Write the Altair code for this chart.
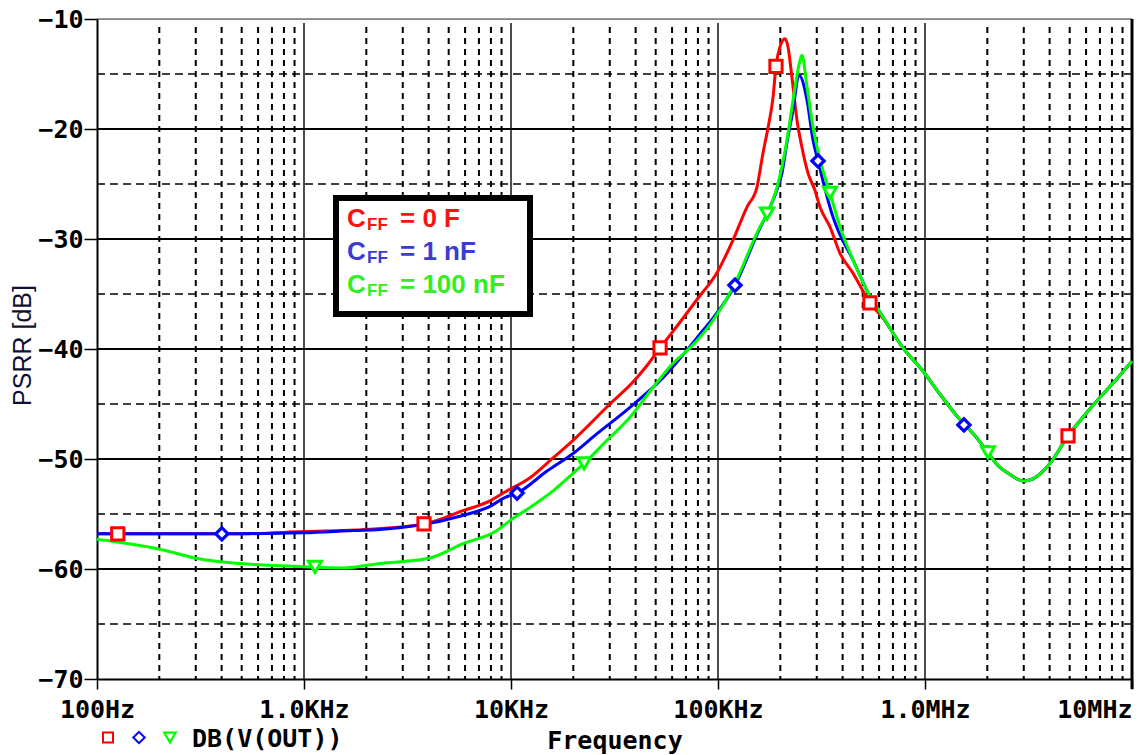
import altair as alt
import pandas as pd

# ---------------- data ----------------
RED_FREQ = [100, 200, 500, 1000, 2000, 3800, 5860, 7920, 9350, 12360, 15960, 19950,
            30080, 38830, 45400, 52480, 60600, 79200, 100000, 118100, 138000, 154200,
            164900, 174800, 184500, 190600, 199500, 210800, 217700, 227600, 240800,
            254600, 272100, 294300, 311000, 347500, 388400, 448700, 542000, 626600]
RED_DB = [-56.8, -56.8, -56.8, -56.6, -56.4, -55.9, -54.7, -53.8, -53.0, -51.7, -49.9, -48.3,
          -45.0, -43.0, -41.5, -39.9, -38.4, -35.5, -32.9, -30.1, -27.1, -25.3,
          -22.2, -19.8, -17.1, -14.3, -12.5, -11.8, -12.5, -15.3, -19.2,
          -21.7, -24.0, -25.6, -27.1, -28.9, -31.3, -33.1, -35.8, -37.2]

BLUE_FREQ = [100, 401, 1000, 1725, 2330, 3630, 5670, 7920, 9350, 10700, 14930, 19950,
             26030, 37570, 54250, 70800, 84700, 94600, 120800, 159500, 172600, 192800,
             203800, 215400, 230300, 246000, 269200, 287700, 304300, 359400, 380000,
             448700, 524800, 626600]
BLUE_DB = [-56.8, -56.8, -56.7, -56.5, -56.4, -56.0, -55.2, -54.3, -53.5, -53.1, -51.1, -49.5,
           -47.7, -45.3, -42.6, -40.1, -38.3, -37.2, -34.2, -29.0, -27.7, -25.5,
           -24.0, -21.2, -18.3, -15.1, -17.4, -21.0, -22.9, -28.0, -29.2,
           -31.9, -34.7, -37.1]

GREEN_FREQ = [100, 201, 315, 491, 1000, 1578, 2330, 4060, 5860, 8560, 9890, 12360, 15960,
              19950, 22540, 29100, 37570, 48530, 60630, 73200, 91400, 118100, 159500,
              172600, 192800, 215400, 230300, 248900, 254600, 269200, 287700, 311000,
              347500, 388400, 448700, 524800, 626600]
GREEN_DB = [-57.3, -58.2, -59.1, -59.5, -59.8, -59.9, -59.5, -59.0, -57.7, -56.5, -55.6, -54.4, -52.9,
            -51.3, -50.4, -48.3, -46.2, -43.5, -41.3, -39.9, -37.8, -34.4, -28.9,
            -27.7, -25.3, -21.0, -17.4, -13.8, -13.3, -16.2, -19.8, -22.8,
            -25.8, -28.9, -31.9, -34.7, -37.1]

# high-frequency part where all three traces coincide
TAIL_FREQ = [783000, 977000, 1180000, 1428000, 1782000, 2014000, 2228000, 2575000,
             2973000, 3324000, 4018000, 4909000, 5797000, 7244000, 8465000, 10000000]
TAIL_DB = [-39.9, -42.0, -44.1, -46.1, -48.1, -49.4, -50.5, -51.4,
           -52.0, -51.8, -50.4, -47.9, -46.2, -44.1, -42.7, -41.1]

RED_MK_FREQ = [126, 3800, 52480, 190600, 542000, 4909000]
RED_MK_DB = [-56.8, -55.9, -39.9, -14.3, -35.8, -47.9]
BLUE_MK_FREQ = [401, 10700, 120800, 304300, 1542000]
BLUE_MK_DB = [-56.8, -53.1, -34.2, -22.9, -46.9]
GREEN_MK_FREQ = [1130, 22540, 172600, 347500, 2014000]
GREEN_MK_DB = [-59.8, -50.4, -27.7, -25.8, -49.4]

X_TICKS = [100, 1000, 10000, 100000, 1000000, 10000000]
X_LABELS = ["100Hz", "1.0KHz", "10KHz", "100KHz", "1.0MHz", "10MHz"]
Y_TICKS = [-70, -60, -50, -40, -30, -20, -10]
Y_MINOR = [-65, -55, -45, -35, -25, -15]
Y_MAJOR_GRID = [-60, -50, -40, -30, -20]
X_MAJOR_GRID = [1000, 10000, 100000, 1000000]
X_MINOR_GRID = [m * 10 ** e for e in range(2, 7) for m in range(2, 10)]

SERIES = ["C", "C", "C"]
SUBS = ["FF", "FF", "FF"]
VALUES = ["= 0 F", "= 1 nF", "= 100 nF"]
TEXT_COLORS = ["#ff1010", "#3c3cd0", "#33ee22"]

RED, BLUE, GREEN = "#ff0000", "#0000ff", "#00ff00"
MONO = "DejaVu Sans Mono"
SANS = "Liberation Sans"

W, H = 1035, 660

xscale = alt.Scale(type="log", domain=[100, 10000000], nice=False)
yscale = alt.Scale(domain=[-70, -10], nice=False)

label_expr = "[" + ",".join("'%s'" % s for s in X_LABELS) + "][round(log(datum.value)/LN10)-2]"

x_axis = alt.Axis(
    values=X_TICKS, labelExpr=label_expr, grid=False,
    domainColor="black", domainWidth=2, tickColor="black", tickWidth=1.5, tickSize=10,
    labelFont=MONO, labelFontSize=25, labelFontWeight="bold", labelColor="black",
    labelBaseline="alphabetic", labelPadding=28, labelFlush=False, labelOverlap=False,
    labelAlign={"condition": {"test": "datum.value >= 9999999", "value": "right"}, "value": "center"},
    title="Frequency", titleFont=MONO, titleFontSize=25, titleFontWeight="bold", titleColor="black",
    titleX=W / 2, titleY=69, titleBaseline="alphabetic", titleAlign="center",
)
y_axis = alt.Axis(
    values=Y_TICKS, labelExpr="'\u2212' + abs(datum.value)", grid=False,
    domainColor="black", domainWidth=2, tickColor="black", tickWidth=1.5, tickSize=13,
    labelFont=MONO, labelFontSize=25, labelFontWeight="bold", labelColor="black",
    labelPadding=1, labelBaseline="middle",
    title="PSRR [dB]", titleFont=SANS, titleFontSize=25, titleFontWeight="normal", titleColor="#101030",
    titleX=-75, titleY=H / 2 - 4, titleAngle=270, titleAlign="center", titleBaseline="middle",
)

one = pd.DataFrame({"k": [0]})

def xenc(field, axis=None):
    if axis is None:
        return alt.X(field, type="quantitative", scale=xscale)
    return alt.X(field, type="quantitative", scale=xscale, axis=axis)

def yenc(field, axis=None):
    if axis is None:
        return alt.Y(field, type="quantitative", scale=yscale)
    return alt.Y(field, type="quantitative", scale=yscale, axis=axis)

# axes carrier (first layer so its explicit axis settings win)
axes = alt.Chart(pd.DataFrame({"f": [100, 10000000], "db": [-70, -10]})).mark_point(opacity=0).encode(
    x=xenc("f", x_axis), y=yenc("db", y_axis))

# grid
minor_v = alt.Chart(pd.DataFrame({"f": X_MINOR_GRID})).mark_rule(
    color="black", strokeWidth=2, strokeDash=[6, 5]).encode(
    x=xenc("f"), y=alt.value(8), y2=alt.value(H))
minor_h = alt.Chart(pd.DataFrame({"db": Y_MINOR})).mark_rule(
    color="black", strokeWidth=1.6, strokeDash=[8, 5]).encode(
    y=yenc("db"), x=alt.value(0), x2=alt.value(W))
major_v = alt.Chart(pd.DataFrame({"f": X_MAJOR_GRID})).mark_rule(
    color="black", strokeWidth=1.4).encode(
    x=xenc("f"), y=alt.value(4), y2=alt.value(H))
major_h = alt.Chart(pd.DataFrame({"db": Y_MAJOR_GRID})).mark_rule(
    color="black", strokeWidth=2).encode(
    y=yenc("db"), x=alt.value(0), x2=alt.value(W))
top_border = alt.Chart(one).mark_rule(color="#333333", strokeWidth=1).encode(
    x=alt.value(0), x2=alt.value(W), y=alt.value(0))
right_border = alt.Chart(one).mark_rule(color="black", strokeWidth=3).encode(
    x=alt.value(W), y=alt.value(0), y2=alt.value(H + 10))

def curve(freqs, dbs, color):
    df = pd.DataFrame({"f": freqs, "db": dbs})
    return alt.Chart(df).mark_line(color=color, strokeWidth=3, interpolate="monotone").encode(
        x=xenc("f"), y=yenc("db"))

def markers(freqs, dbs, color, shape, size, sw):
    df = pd.DataFrame({"f": freqs, "db": dbs})
    return alt.Chart(df).mark_point(shape=shape, size=size, fill="white", filled=True,
                                    stroke=color, strokeWidth=sw, opacity=1).encode(
        x=xenc("f"), y=yenc("db"))

red_line = curve(RED_FREQ + TAIL_FREQ, RED_DB + TAIL_DB, RED)
blue_line = curve(BLUE_FREQ + TAIL_FREQ, BLUE_DB + TAIL_DB, BLUE)
green_line = curve(GREEN_FREQ + TAIL_FREQ, GREEN_DB + TAIL_DB, GREEN)

red_mk = markers(RED_MK_FREQ, RED_MK_DB, RED, "square", 150, 3)
blue_mk = markers(BLUE_MK_FREQ, BLUE_MK_DB, BLUE, "diamond", 150, 3.2)
green_mk = markers(GREEN_MK_FREQ, GREEN_MK_DB, GREEN, "triangle-down", 170, 3)

# annotation box
box = alt.Chart(one).mark_rect(fill="white", stroke="black", strokeWidth=6).encode(
    x=alt.value(239), x2=alt.value(433), y=alt.value(179), y2=alt.value(295))

texts = []
for i in range(3):
    base = 208 + 33 * i
    texts.append(alt.Chart(one).mark_text(font=SANS, fontSize=26, fontWeight="bold", align="left",
                                          baseline="alphabetic", color=TEXT_COLORS[i]).encode(
        x=alt.value(250), y=alt.value(base), text=alt.value(SERIES[i])))
    texts.append(alt.Chart(one).mark_text(font=SANS, fontSize=17, fontWeight="bold", align="left",
                                          baseline="alphabetic", color=TEXT_COLORS[i]).encode(
        x=alt.value(270), y=alt.value(base + 3), text=alt.value(SUBS[i])))
    texts.append(alt.Chart(one).mark_text(font=SANS, fontSize=26, fontWeight="bold", align="left",
                                          baseline="alphabetic", color=TEXT_COLORS[i]).encode(
        x=alt.value(303), y=alt.value(base), text=alt.value(VALUES[i])))

# bottom trace legend
leg_sq = alt.Chart(one).mark_point(shape="square", size=100, fill="white", filled=True, stroke=RED,
                                   strokeWidth=2, opacity=1).encode(x=alt.value(11), y=alt.value(718.5))
leg_di = alt.Chart(one).mark_point(shape="diamond", size=130, fill="white", filled=True, stroke=BLUE,
                                   strokeWidth=2, opacity=1).encode(x=alt.value(42), y=alt.value(718.5))
leg_tr = alt.Chart(one).mark_point(shape="triangle-down", size=130, fill="white", filled=True, stroke=GREEN,
                                   strokeWidth=2.2, opacity=1).encode(x=alt.value(73), y=alt.value(718.5))
leg_txt = alt.Chart(one).mark_text(font=MONO, fontSize=25, fontWeight="bold", align="left",
                                   baseline="alphabetic", color="black").encode(
    x=alt.value(95), y=alt.value(728), text=alt.value("DB(V(OUT))"))

chart = alt.layer(
    axes, minor_v, minor_h, major_v, major_h, top_border, right_border,
    red_line, blue_line, green_line, red_mk, blue_mk, green_mk,
    box, *texts, leg_sq, leg_di, leg_tr, leg_txt,
).properties(
    width=W, height=H,
    autosize=alt.AutoSizeParams(type="none"),
    padding={"left": 97, "top": 19, "right": 8, "bottom": 76},
).configure_view(stroke=None).configure(background="white")

chart.save("out.html", embed_options={"renderer": "svg", "actions": False})
